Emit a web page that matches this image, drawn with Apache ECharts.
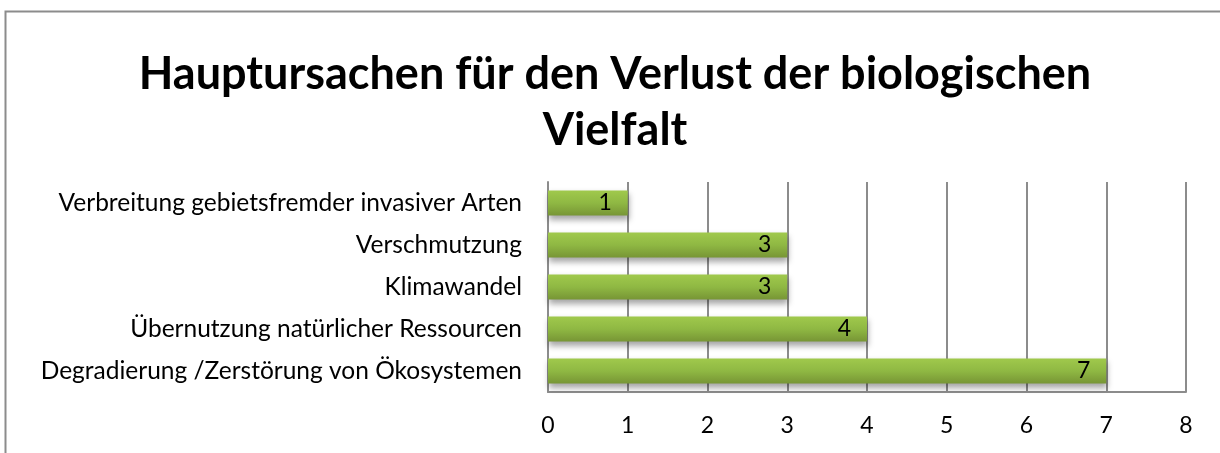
<!DOCTYPE html>
<html>
<head>
<meta charset="utf-8">
<script src="https://cdn.jsdelivr.net/npm/echarts@6/dist/echarts.min.js"></script>
<style>
  html, body { margin: 0; padding: 0; background: #fff; }
  #main { width: 1220px; height: 453px; }
</style>
</head>
<body>
<div id="main"></div>
<script>
// categories bottom -> top (as ECharts draws category y axis)
var categories = [
  'Degradierung /Zerstörung von Ökosystemen',
  'Übernutzung natürlicher Ressourcen',
  'Klimawandel',
  'Verschmutzung',
  'Verbreitung gebietsfremder invasiver Arten'
];
var values = [7, 4, 3, 3, 1];
var xTicks = [0, 1, 2, 3, 4, 5, 6, 7, 8];

var chart = echarts.init(document.getElementById('main'));
var font = 'Lato, Carlito, "Open Sans", sans-serif';

chart.setOption({
  backgroundColor: '#fff',
  animation: false,
  textStyle: { fontFamily: font },
  graphic: [{
    type: 'rect',
    shape: { x: 5.5, y: 11.5, width: 1300, height: 600 },
    style: { fill: 'none', stroke: '#8c8c8c', lineWidth: 2 },
    silent: true
  }],
  title: {
    text: 'Hauptursachen für den Verlust der biologischen\nVielfalt',
    left: 610,
    textAlign: 'center',
    top: 41,
    textStyle: {
      fontFamily: font,
      fontSize: 45,
      fontWeight: 'bold',
      color: '#000',
      lineHeight: 56
    }
  },
  grid: { left: 548, right: 34, top: 182, bottom: 61 },
  xAxis: {
    type: 'value',
    min: xTicks[0],
    max: xTicks[xTicks.length - 1],
    interval: 1,
    axisLine: { show: true, lineStyle: { color: '#8c8c8c', width: 2 } },
    axisTick: { show: false },
    axisLabel: { color: '#000', fontSize: 23, margin: 22, fontFamily: font },
    splitLine: { show: true, lineStyle: { color: '#8c8c8c', width: 2 } }
  },
  yAxis: {
    type: 'category',
    data: categories,
    axisLine: { show: true, lineStyle: { color: '#8c8c8c', width: 2 } },
    axisTick: { show: false },
    axisLabel: { color: '#000', fontSize: 24.5, margin: 26, fontFamily: font }
  },
  series: [{
    type: 'bar',
    data: values,
    barWidth: '60%',
    itemStyle: {
      color: new echarts.graphic.LinearGradient(0, 0, 0, 1, [
        { offset: 0, color: '#a0c94c' },
        { offset: 0.5, color: '#8fb843' },
        { offset: 1, color: '#779535' }
      ]),
      shadowColor: 'rgba(0,0,0,0.35)',
      shadowBlur: 6,
      shadowOffsetY: 4,
      shadowOffsetX: 1
    },
    label: {
      show: true,
      position: 'insideRight',
      distance: 16,
      color: '#000',
      fontSize: 23,
      fontFamily: font
    }
  }]
});
</script>
</body>
</html>
